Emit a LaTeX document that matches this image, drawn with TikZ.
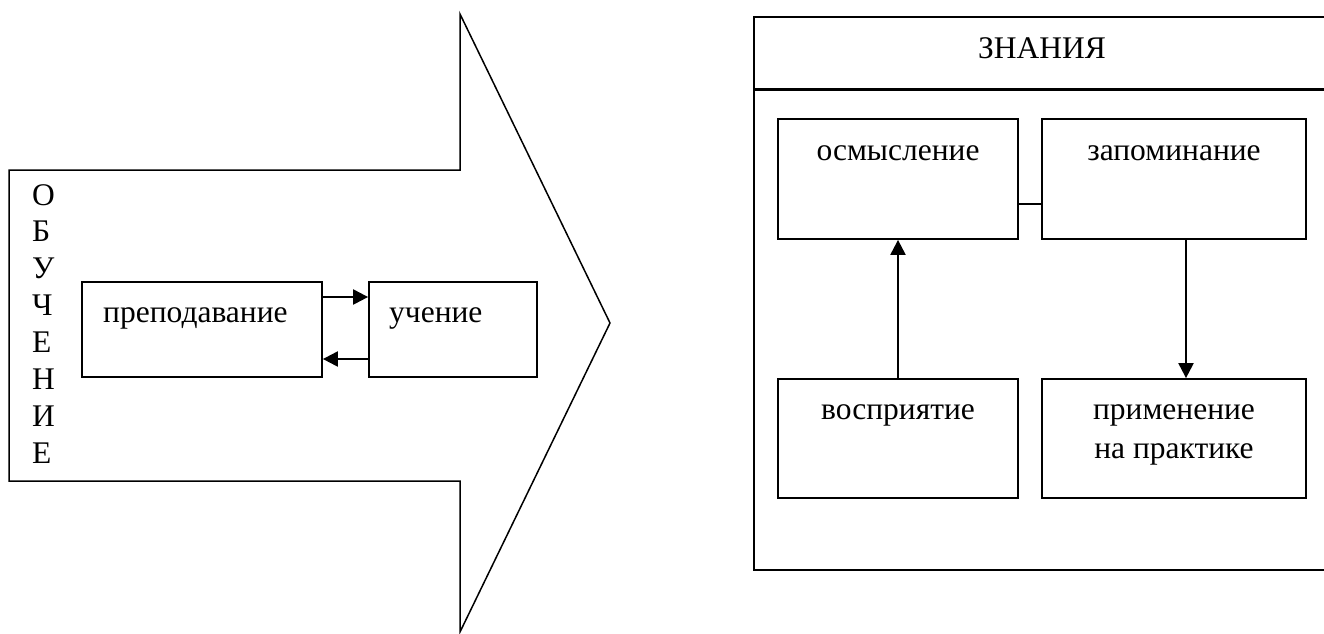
\documentclass[tikz,border=0pt]{standalone}
\usepackage{fontspec}
\setmainfont{Liberation Serif}
\usetikzlibrary{arrows.meta}
\tikzset{
  box/.style={draw, line width=1.8pt, rectangle, inner sep=0pt},
  arr/.style={line width=2.2pt, -{Triangle[length=15pt,width=15pt]}},
  plain/.style={line width=1.8pt},
  txt/.style={inner sep=0pt, font=\fontsize{31.5}{37}\selectfont},
}
\begin{document}
\begin{tikzpicture}[x=1pt,y=-1pt]
\clip (0,0) rectangle (1324,633);
\fill[white] (0,0) rectangle (1324,633);
% big arrow
\draw[line width=1.5pt, line join=miter] (9,170) -- (460,170) -- (460,14) -- (610,323) -- (460,632) -- (460,481) -- (9,481) -- cycle;
% vertical word
\foreach \ch [count=\i from 0] in {О,Б,У,Ч,Е,Н,И,Е} {
  \node[txt, anchor=base west] (v\i) at (32,{205+36.86*\i}) {\ch};
}
% left boxes
\node[box, minimum width=240pt, minimum height=95pt] (prep) at (202,329.5) {};
\node[box, minimum width=168pt, minimum height=95pt] (uch) at (453,329.5) {};
\node[txt, anchor=base west] (prept) at (103,322) {преподавание};
\node[txt, anchor=base west] (ucht) at (389,322) {учение};
\draw[arr] ([yshift=32.5pt]prep.east) -- ([yshift=32.5pt]uch.west);
\draw[arr] ([yshift=-29.5pt]uch.west) -- ([yshift=-29.5pt]prep.east);
% right frame
\node[box, line width=2pt, minimum width=600pt, minimum height=553pt] (zn) at (1054,293.5) {};
\draw[line width=3pt] (zn.west |- 0,89) coordinate (hl) -- (zn.east |- 0,89) coordinate (hr);
\node[txt, anchor=base] (znt) at (1042,58) {ЗНАНИЯ};
% inner boxes
\node[box, minimum width=240pt, minimum height=120pt] (osm) at (898,179) {};
\node[box, minimum width=264pt, minimum height=120pt] (zap) at (1174,179) {};
\node[box, minimum width=240pt, minimum height=119pt] (vos) at (898,438.5) {};
\node[box, minimum width=264pt, minimum height=119pt] (prim) at (1174,438.5) {};
\node[txt, anchor=base] (osmt) at (898,160) {осмысление};
\node[txt, anchor=base] (zapt) at (1174,160) {запоминание};
\node[txt, anchor=base] (vost) at (898,419) {восприятие};
\node[txt, anchor=base] (primt1) at (1174,419) {применение};
\node[txt, anchor=base] (primt2) at (1174,458) {на практике};
\draw[plain] ([yshift=-25pt]osm.east) -- ([yshift=-25pt]zap.west);
\draw[arr] (vos.north) -- (osm.south);
\draw[arr] ([xshift=12pt]zap.south) -- ([xshift=12pt]prim.north);
\end{tikzpicture}
\end{document}
